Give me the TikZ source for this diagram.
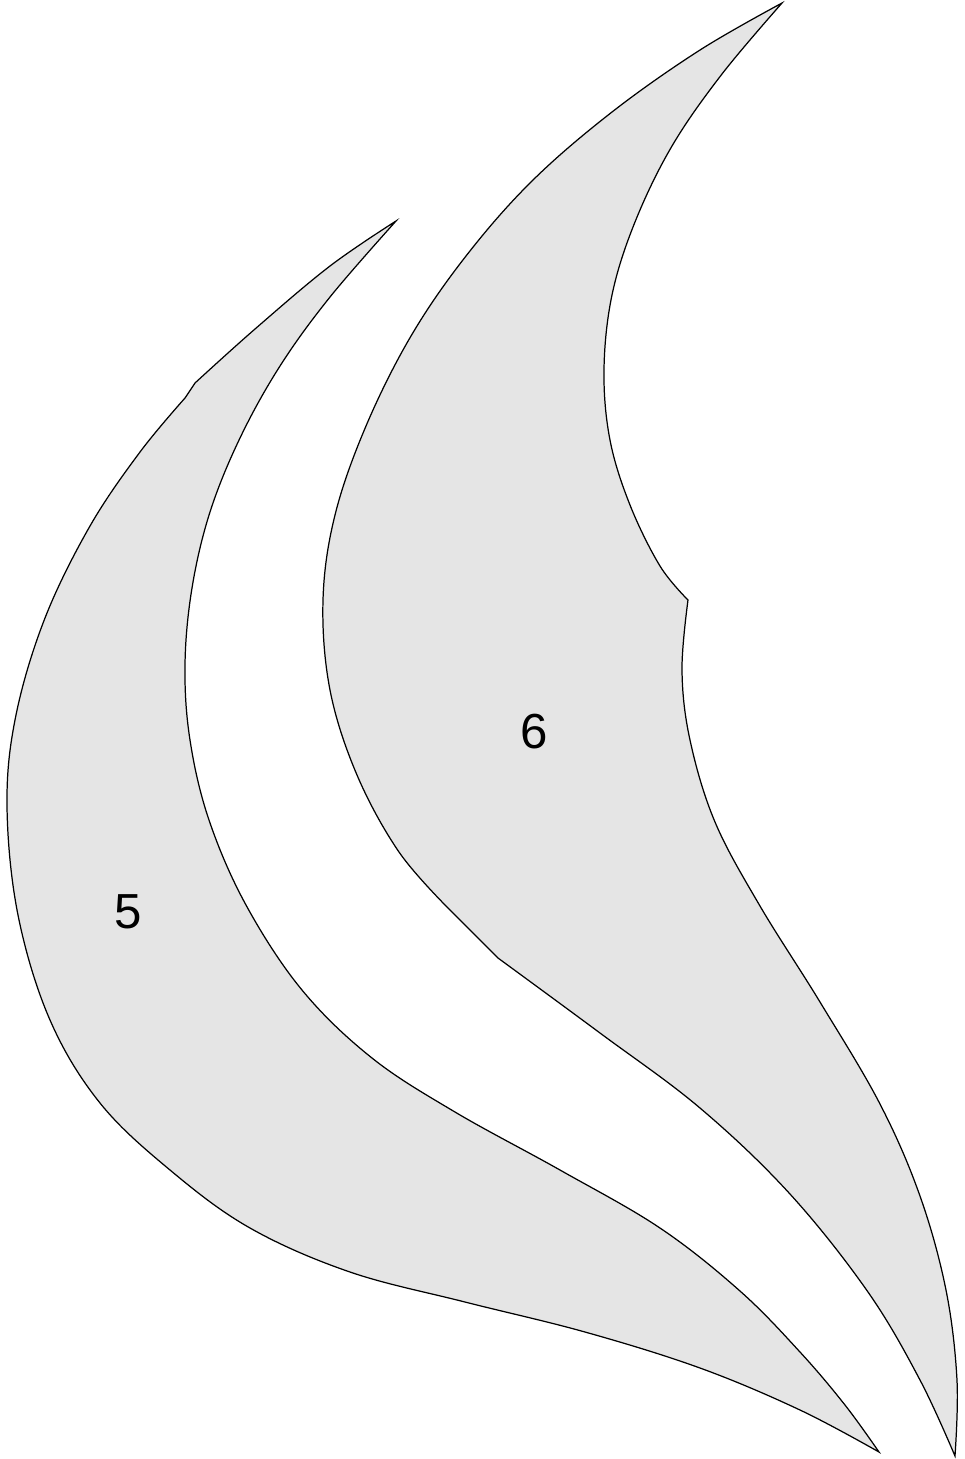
\documentclass[tikz,border=0pt]{standalone}
\usepackage{fontspec}
\setmainfont{Liberation Sans}
\tikzset{
  blade/.style={draw=black, line width=0.35pt, fill=black!10, line join=miter},
  bladelabel/.style={font=\fontsize{14}{16}\selectfont, inner sep=0pt}
}
\begin{document}
\begin{tikzpicture}[x=0.01cm, y=-0.01cm]
\useasboundingbox (0,0) rectangle (965,1459);

% blade 5
\filldraw[blade] plot[smooth, tension=0.6] coordinates {(396,221) (330,266) (255,329) (195,383)}
  -- plot[smooth, tension=0.6] coordinates {(185,398) (140,452) (90,526) (45,618) (16,715) (7,805) (18,915) (50,1020) (100,1103) (170,1170) (250,1228) (350,1272) (465,1302) (585,1332) (700,1368) (800,1410) (879,1452)}
  -- plot[smooth, tension=0.6] coordinates {(879,1452) (845,1405) (800,1352) (740,1291) (660,1228) (560,1170) (455,1112) (372,1058) (302,990) (246,905) (209,820) (190,740) (185,665) (192,588) (210,512) (240,438) (280,366) (330,297) (396,221)}
  -- cycle;

% blade 6
\filldraw[blade] plot[smooth, tension=0.6] coordinates {(782,3) (700,50) (612,112) (532,181) (466,256) (411,336) (366,426) (335,515) (323,600) (330,690) (357,775) (399,852) (448,908)}
  -- plot[smooth, tension=0.6] coordinates {(498,958) (600,1033) (700,1108) (790,1194) (868,1292) (920,1380) (955,1456)}
  -- plot[smooth, tension=0.6] coordinates {(955,1456) (957,1380) (946,1290) (920,1196) (880,1104) (820,1002) (760,906) (715,822) (690,740) (682,670) (688,600)}
  -- plot[smooth, tension=0.6] coordinates {(688,600) (660,566) (630,505) (610,440) (604,370) (612,295) (635,222) (672,146) (722,74) (782,3)}
  -- cycle;

\node[bladelabel] (lbl6) at (534,732) {6};
\node[bladelabel] (lbl5) at (128,912) {5};
\end{tikzpicture}
\end{document}
